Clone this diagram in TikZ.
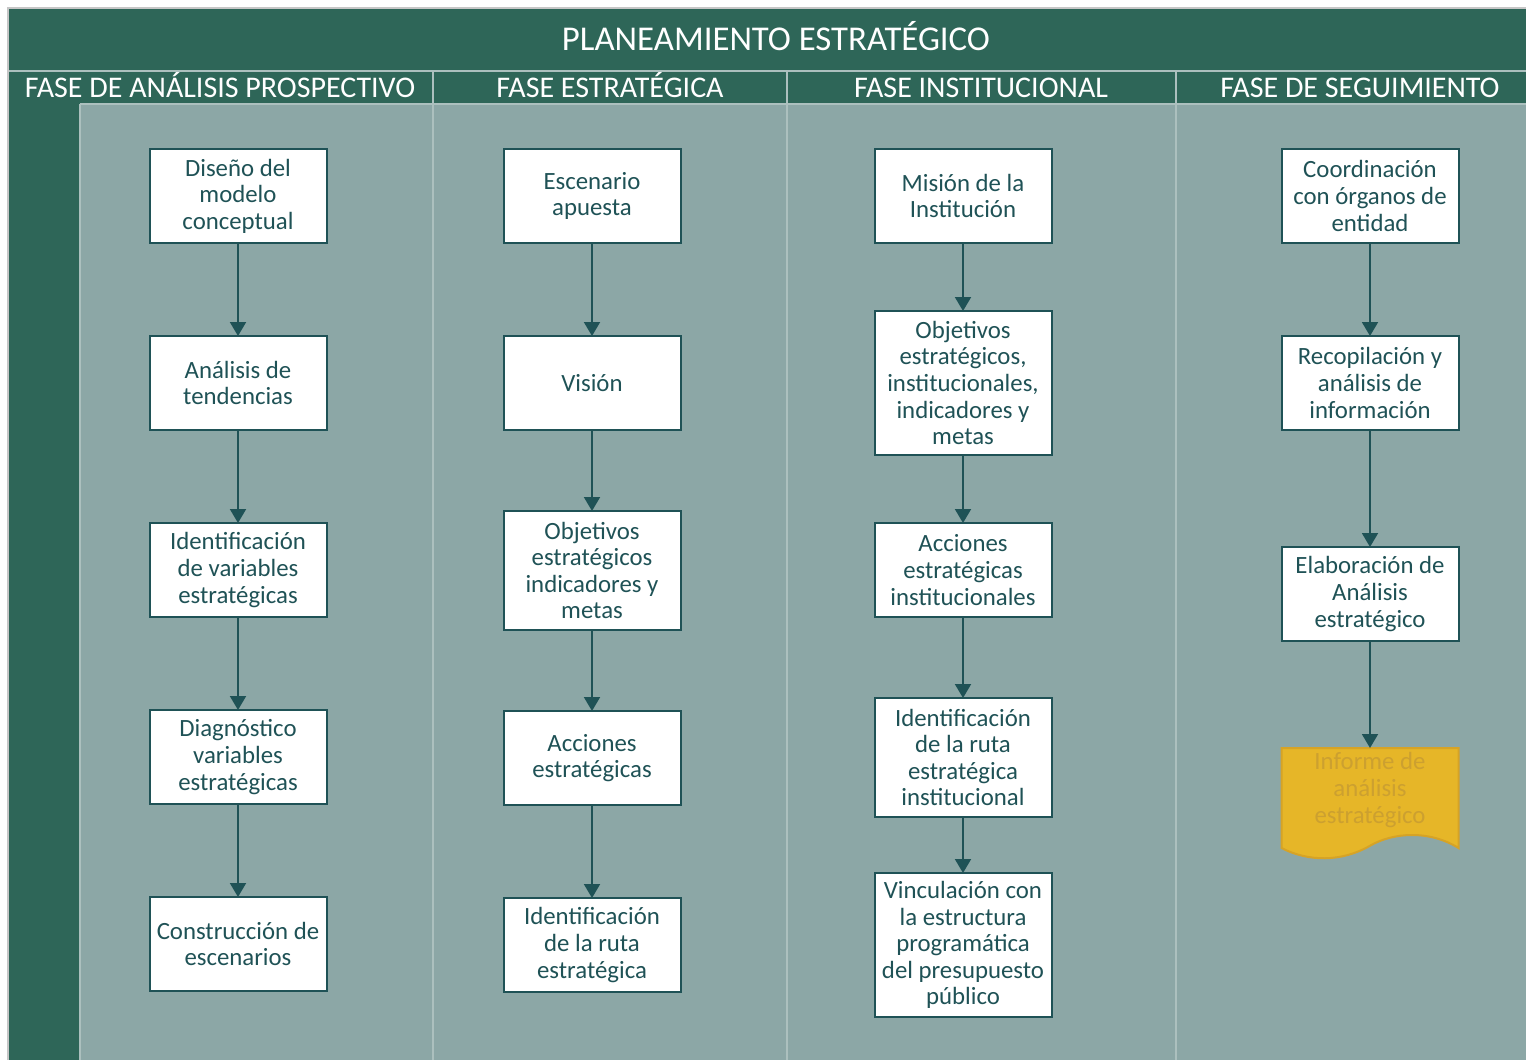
\documentclass[tikz,border=0pt]{standalone}
\usepackage{fontspec}
\setmainfont{Carlito}
\usepackage{tikz}
\usetikzlibrary{arrows.meta}
\usetikzlibrary{positioning}
\usetikzlibrary{backgrounds}
\definecolor{pegreen}{RGB}{46,102,88}
\definecolor{pegray}{RGB}{140,167,166}
\definecolor{peline}{RGB}{172,192,190}
\definecolor{peteal}{RGB}{31,82,86}
\definecolor{peyellow}{RGB}{230,182,40}
\definecolor{peyellowdk}{RGB}{214,163,38}
\definecolor{petext}{RGB}{204,160,48}

\begin{document}
\begin{tikzpicture}[x=0.5pt,y=-0.5pt,>={Triangle[width=8pt,length=7pt]},node distance=46.5pt,
    step node/.style={rectangle,draw=peteal,line width=1pt,fill=white,text=peteal,font=\fontsize{12.4}{13.3}\selectfont,align=center,inner sep=1pt,outer sep=0pt,minimum width=88.5pt,minimum height=47pt},
    doc node/.style={rectangle,text=petext,font=\fontsize{12.4}{13.3}\selectfont,align=center,inner sep=1pt,outer sep=0pt,minimum width=88.5pt,minimum height=42pt},
    head node/.style={text=white,font=\fontsize{15}{17}\selectfont,inner sep=0pt,anchor=base},
    flow/.style={->,draw=peteal,line width=1pt}]
    \useasboundingbox (0,0) rectangle (1526,1060);

    % panels
    \begin{scope}[on background layer]
      \fill[white] (0,0) rectangle (1526,1060);
      \fill[pegreen] (9,9) rectangle (1526,1060);
      \fill[pegray] (80,104) rectangle (1526,1060);
      \draw[gray!45,line width=0.6pt] (8,1060) -- (8,8) -- (1526,8);
      \draw[peline,line width=1pt] (9,71) -- (1526,71);
      \draw[peline,line width=1pt] (80,104) -- (1526,104);
      \draw[peline,line width=0.6pt] (80,104) -- (80,1060);
      \foreach \x in {433,787,1176}
        \draw[peline,line width=1pt] (\x,71) -- (\x,1060);
    \end{scope}

    \node[head node,font=\fontsize{17.4}{19}\selectfont] (title) at (776,50) {PLANEAMIENTO ESTRATÉGICO};
    \node[head node] (h1) at (220,97) {FASE DE ANÁLISIS PROSPECTIVO};
    \node[head node] (h2) at (610,97) {FASE ESTRATÉGICA};
    \node[head node] (h3) at (981,97) {FASE INSTITUCIONAL};
    \node[head node] (h4) at (1360,97) {FASE DE SEGUIMIENTO};

    % fase de analisis prospectivo
    \node[step node] (a1) at (238,196) {Diseño del\\modelo\\conceptual};
    \node[step node] (a2) [below=of a1] {Análisis de\\tendencias};
    \node[step node] (a3) [below=of a2] {Identificación\\de variables\\estratégicas};
    \node[step node] (a4) [below=of a3] {Diagnóstico\\variables\\estratégicas};
    \node[step node] (a5) [below=of a4] {Construcción de\\escenarios};

    % fase estrategica
    \node[step node] (b1) at (592,196) {Escenario\\apuesta};
    \node[step node] (b2) [below=of b1] {Visión};
    \node[step node,minimum height=59.5pt] (b3) [below=40.5pt of b2] {Objetivos\\estratégicos\\indicadores y\\metas};
    \node[step node] (b4) [below=40.5pt of b3] {Acciones\\estratégicas};
    \node[step node] (b5) [below=of b4] {Identificación\\de la ruta\\estratégica};

    % fase institucional
    \node[step node] (c1) at (963,196) {Misión de la\\Institución};
    \node[step node,minimum height=72pt] (c2) [below=34pt of c1] {Objetivos\\estratégicos,\\institucionales,\\indicadores y\\metas};
    \node[step node] (c3) [below=34pt of c2] {Acciones\\estratégicas\\institucionales};
    \node[step node,minimum height=59.5pt] (c4) [below=40.5pt of c3] {Identificación\\de la ruta\\estratégica\\institucional};
    \node[step node,minimum height=72pt] (c5) [below=28pt of c4] {Vinculación con\\la estructura\\programática\\del presupuesto\\público};

    % fase de seguimiento
    \node[step node] (d1) at (1370,196) {Coordinación\\con órganos de\\entidad};
    \node[step node] (d2) [below=of d1] {Recopilación y\\análisis de\\información};
    \node[step node] (d3) [below=58.5pt of d2] {Elaboración de\\Análisis\\estratégico};
    \node[doc node] (d4) [below=53.5pt of d3] {Informe de\\análisis\\estratégico};

    \begin{scope}[on background layer]
      \filldraw[fill=peyellow,draw=peyellowdk,line width=1pt,shift={(d4.south west)}]
        (0,-84) -- (177,-84) -- (177,16)
        .. controls (148,-2) and (112,0) .. (88,14)
        .. controls (60,30) and (27,30) .. (0,16) -- cycle;
    \end{scope}

    \path \foreach \s/\t in {a1/a2,a2/a3,a3/a4,a4/a5,b1/b2,b2/b3,b3/b4,b4/b5,
                            c1/c2,c2/c3,c3/c4,c4/c5,d1/d2,d2/d3,d3/d4} {
        (\s) edge[flow] (\t)
      } ;
\end{tikzpicture}
\end{document}
